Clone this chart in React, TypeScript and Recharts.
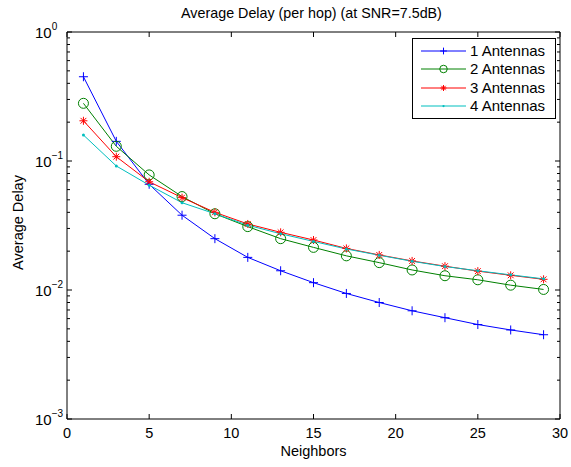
import { LineChart, Line, XAxis, YAxis, Legend } from 'recharts';

const neighbors = [1, 3, 5, 7, 9, 11, 13, 15, 17, 19, 21, 23, 25, 27, 29];
const ant1 = [0.45, 0.142, 0.066, 0.038, 0.025, 0.0179, 0.0141, 0.0114, 0.0094, 0.008, 0.0069, 0.0061, 0.0054, 0.0049, 0.0045];
const ant2 = [0.28, 0.13, 0.078, 0.053, 0.039, 0.031, 0.025, 0.0214, 0.0184, 0.0163, 0.0143, 0.0129, 0.012, 0.0109, 0.0101];
const ant3 = [0.205, 0.108, 0.069, 0.052, 0.04, 0.0325, 0.028, 0.0244, 0.021, 0.0187, 0.0168, 0.0153, 0.014, 0.013, 0.0121];
const ant4 = [0.159, 0.0915, 0.065, 0.0475, 0.039, 0.0318, 0.0273, 0.0238, 0.0208, 0.0186, 0.0167, 0.0152, 0.0141, 0.0131, 0.0122];

const xTicks = [0, 5, 10, 15, 20, 25, 30];
const yTicks = [
  0.001, 0.002, 0.003, 0.004, 0.005, 0.006, 0.007, 0.008, 0.009,
  0.01, 0.02, 0.03, 0.04, 0.05, 0.06, 0.07, 0.08, 0.09,
  0.1, 0.2, 0.3, 0.4, 0.5, 0.6, 0.7, 0.8, 0.9, 1,
];

const title = 'Average Delay (per hop) (at SNR=7.5dB)';
const xLabel = 'Neighbors';
const yLabel = 'Average Delay';

const series = [
  { key: 'a1', name: '1 Antennas', color: '#0000ff', marker: 'plus' },
  { key: 'a2', name: '2 Antennas', color: '#008000', marker: 'circle' },
  { key: 'a3', name: '3 Antennas', color: '#ff0000', marker: 'star' },
  { key: 'a4', name: '4 Antennas', color: '#00bfbf', marker: 'dot' },
];

const data = neighbors.map((x, i) => ({ x, a1: ant1[i], a2: ant2[i], a3: ant3[i], a4: ant4[i] }));

const W = 571;
const H = 467;
const LEFT = 67;
const TOP = 32;
const RIGHT = 560;
const BOTTOM = 419;
const FONT = '"Liberation Sans", Arial, Helvetica, sans-serif';

function Marker({ type, cx, cy, color, s = 1 }: { type: string; cx: number; cy: number; color: string; s?: number }) {
  if (type === 'plus') {
    const a = 4.5 * s;
    return <path d={`M${cx - a},${cy}h${2 * a}M${cx},${cy - a}v${2 * a}`} stroke={color} fill="none" />;
  }
  if (type === 'circle') {
    return <circle cx={cx} cy={cy} r={5 * s} stroke={color} fill="none" />;
  }
  if (type === 'star') {
    const a = 4 * s;
    const d = 2.9 * s;
    return (
      <path
        d={`M${cx - a},${cy}h${2 * a}M${cx},${cy - a}v${2 * a}M${cx - d},${cy - d}l${2 * d},${2 * d}M${cx - d},${cy + d}l${2 * d},${-2 * d}`}
        stroke={color}
        fill="none"
      />
    );
  }
  return <circle cx={cx} cy={cy} r={1.5 * s} fill={color} stroke="none" />;
}

const isMajor = (v: number) => Math.abs(Math.log10(v) - Math.round(Math.log10(v))) < 1e-6;

const LeftTick = (p: any) => {
  const v = p.payload.value;
  const major = isMajor(v);
  return (
    <g>
      <line x1={p.x} y1={p.y} x2={p.x + (major ? 5 : 3)} y2={p.y} stroke="#000" />
      {major && (
        <text x={p.x - 32} y={p.y + 6} fontSize={15} fontFamily={FONT} fill="#000">
          10
          <tspan dy={-8} fontSize={10}>
            {String(Math.round(Math.log10(v))).replace('-', '\u2212')}
          </tspan>
        </text>
      )}
    </g>
  );
};

const RightTick = (p: any) => {
  const major = isMajor(p.payload.value);
  return <line x1={p.x} y1={p.y} x2={p.x - (major ? 5 : 3)} y2={p.y} stroke="#000" />;
};

const BottomTick = (p: any) => (
  <g>
    <line x1={p.x} y1={p.y} x2={p.x} y2={p.y - 5} stroke="#000" />
    <text x={p.x} y={p.y + 19} textAnchor="middle" fontSize={14.5} fontFamily={FONT} fill="#000">
      {p.payload.value}
    </text>
  </g>
);

const TopTick = (p: any) => <line x1={p.x} y1={p.y} x2={p.x} y2={p.y + 5} stroke="#000" />;

const LegendBox = () => (
  <div
    style={{
      border: '1px solid #000',
      background: '#fff',
      width: 142,
      padding: '3px 0',
      fontFamily: FONT,
      fontSize: 15,
      color: '#000',
      boxSizing: 'content-box',
    }}
  >
    {series.map((s) => (
      <div key={s.key} style={{ display: 'flex', alignItems: 'center', height: 18.3 }}>
        <svg width={57} height={18} style={{ display: 'block' }}>
          <line x1={8} y1={9} x2={53} y2={9} stroke={s.color} />
          <Marker type={s.marker} cx={30.5} cy={9} color={s.color} s={0.75} />
        </svg>
        <span style={{ whiteSpace: 'nowrap', lineHeight: '18px' }}>{s.name}</span>
      </div>
    ))}
  </div>
);

export default function App() {
  return (
    <div style={{ position: 'absolute', left: 0, top: 0, width: W, height: H, background: '#fff' }}>
      <LineChart width={W} height={H} data={data} margin={{ top: 0, right: 0, bottom: 0, left: 0 }}>
        <XAxis
          xAxisId="b"
          dataKey="x"
          type="number"
          domain={[0, 30]}
          ticks={xTicks}
          interval={0}
          height={H - BOTTOM}
          tickSize={0}
          tickMargin={0}
          tickLine={false}
          tick={BottomTick}
          axisLine={{ stroke: '#000' }}
          label={{
            content: () => (
              <text x={(LEFT + RIGHT) / 2} y={BOTTOM + 37} textAnchor="middle" fontSize={14.5} fontFamily={FONT} fill="#000">
                {xLabel}
              </text>
            ),
          }}
        />
        <XAxis
          xAxisId="t"
          orientation="top"
          dataKey="x"
          type="number"
          domain={[0, 30]}
          ticks={xTicks}
          interval={0}
          height={TOP}
          tickSize={0}
          tickMargin={0}
          tickLine={false}
          tick={TopTick}
          axisLine={{ stroke: '#000' }}
          label={{
            content: () => (
              <text x={(LEFT + RIGHT) / 2 - 2} y={18} textAnchor="middle" fontSize={14.3} fontFamily={FONT} fill="#000">
                {title}
              </text>
            ),
          }}
        />
        <YAxis
          yAxisId="l"
          scale="log"
          type="number"
          domain={[0.001, 1]}
          allowDataOverflow
          ticks={yTicks}
          interval={0}
          width={LEFT}
          tickSize={0}
          tickMargin={0}
          tickLine={false}
          tick={LeftTick}
          axisLine={{ stroke: '#000' }}
          label={{
            content: () => (
              <text
                x={23}
                y={(TOP + BOTTOM) / 2 - 3}
                transform={`rotate(-90 23 ${(TOP + BOTTOM) / 2 - 3})`}
                textAnchor="middle"
                fontSize={14.5}
                fontFamily={FONT}
                fill="#000"
              >
                {yLabel}
              </text>
            ),
          }}
        />
        <YAxis
          yAxisId="r"
          orientation="right"
          scale="log"
          type="number"
          domain={[0.001, 1]}
          allowDataOverflow
          ticks={yTicks}
          interval={0}
          width={W - RIGHT}
          tickSize={0}
          tickMargin={0}
          tickLine={false}
          tick={RightTick}
          axisLine={{ stroke: '#000' }}
        />
        {series.map((s) => (
          <Line
            key={s.key}
            xAxisId="b"
            yAxisId="l"
            dataKey={s.key}
            name={s.name}
            stroke={s.color}
            strokeWidth={1}
            isAnimationActive={false}
            dot={(p: any) => <Marker key={`${s.key}-${p.index}`} type={s.marker} cx={p.cx} cy={p.cy} color={s.color} />}
            activeDot={false}
          />
        ))}
        <Legend
          layout="vertical"
          align="center"
          verticalAlign="middle"
          content={LegendBox}
          wrapperStyle={{ position: 'absolute', left: 412, top: 38, width: 'auto', height: 'auto' }}
        />
      </LineChart>
    </div>
  );
}
